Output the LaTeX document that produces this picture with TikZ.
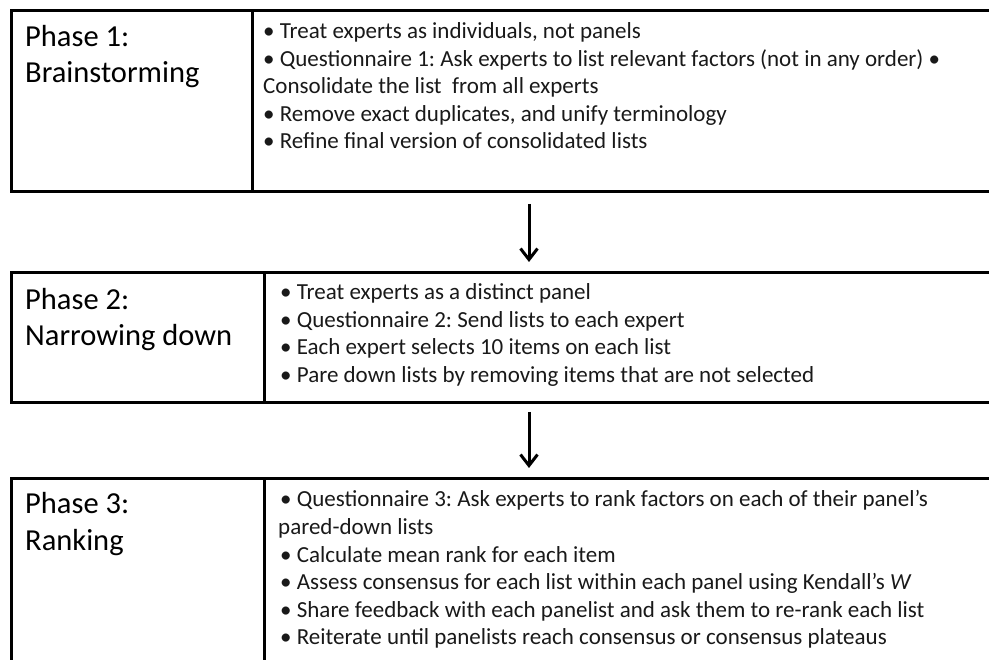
\documentclass[tikz,border=0pt]{standalone}
\usepackage{fontspec}
\setmainfont{Carlito}
\usetikzlibrary{arrows.meta}
\frenchspacing
\begin{document}
\begin{tikzpicture}[x=1pt,y=-1pt,
  box/.style={draw, line width=3pt, inner sep=0pt, outer sep=0pt, anchor=north west},
  divider/.style={line width=3pt},
  title/.style={anchor=base west, inner sep=0pt, font=\fontsize{30.5}{36}\selectfont\frenchspacing},
  item/.style={anchor=base west, inner sep=0pt, text=black!90, font=\fontsize{23}{27.5}\selectfont\frenchspacing},
  flow/.style={line width=3pt, -{Straight Barb[length=11pt,width=17pt]}}]
\useasboundingbox (0,0) rectangle (989,660);
\clip (0,0) rectangle (989,660);
% boxes
\node[box, minimum width=995pt, minimum height=181pt] (b1) at (11,11) {};
\node[box, minimum width=995pt, minimum height=130pt] (b2) at (11,273) {};
\node[box, minimum width=995pt, minimum height=200pt] (b3) at (11,479) {};
% dividers
\coordinate (d1) at (252,0);
\coordinate (d2) at (264,0);
\draw[divider] (d1 |- b1.north) -- (d1 |- b1.south);
\draw[divider] (d2 |- b2.north) -- (d2 |- b2.south);
\draw[divider] (d2 |- b3.north) -- (d2 |- b3.south);
% arrows
\coordinate (ax) at (529,0);
\draw[flow, shorten <=12pt, shorten >=11pt] (ax |- b1.south) -- (ax |- b2.north);
\draw[flow, shorten <=9pt, shorten >=11pt] (ax |- b2.south) -- (ax |- b3.north);
% Phase 1
\node[title] (t1a) at (25,47) {Phase 1:};
\node[title] (t1b) at (25,83) {Brainstorming};
\node[item] (p1a) at (263,39) {• Treat experts as individuals, not panels};
\node[item] (p1b) at (263,66.5) {• Questionnaire 1: Ask experts to list relevant factors (not in any order) •};
\node[item] (p1c) at (263,94) {Consolidate the list~ from all experts};
\node[item] (p1d) at (263,121.5) {• Remove exact duplicates, and unify terminology};
\node[item] (p1e) at (263,149) {• Refine final version of consolidated lists};
% Phase 2
\node[title] (t2a) at (25,310) {Phase 2:};
\node[title] (t2b) at (25,346) {Narrowing down};
\node[item] (p2a) at (280,300) {• Treat experts as a distinct panel};
\node[item] (p2b) at (280,327.5) {• Questionnaire 2: Send lists to each expert};
\node[item] (p2c) at (280,355) {• Each expert selects 10 items on each list};
\node[item] (p2d) at (280,382.5) {• Pare down lists by removing items that are not selected};
% Phase 3
\node[title] (t3a) at (25,513) {Phase 3:};
\node[title] (t3b) at (25,550) {Ranking};
\node[item] (p3a) at (280,507) {• Questionnaire 3: Ask experts to rank factors on each of their panel’s};
\node[item] (p3b) at (278,534.5) {pared-down lists};
\node[item] (p3c) at (280,562) {• Calculate mean rank for each item};
\node[item] (p3d) at (280,589.5) {• Assess consensus for each list within each panel using Kendall’s \textit{W}};
\node[item] (p3e) at (280,617) {• Share feedback with each panelist and ask them to re-rank each list};
\node[item] (p3f) at (280,644.5) {• Reiterate until panelists reach consensus or consensus plateaus};
\end{tikzpicture}
\end{document}
